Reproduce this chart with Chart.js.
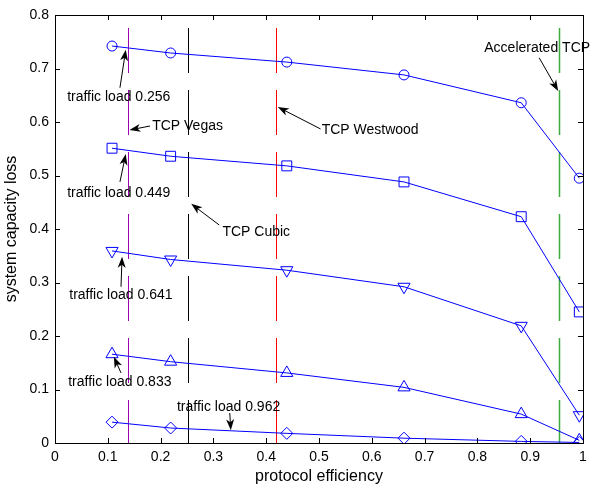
<!DOCTYPE html>
<html>
<head>
<meta charset="utf-8">
<script src="https://cdn.jsdelivr.net/npm/chart.js@4.4.1/dist/chart.umd.min.js"></script>
<style>
html,body{margin:0;padding:0;background:#fff;}
#wrap{width:591px;height:485px;}
</style>
</head>
<body>
<div id="wrap"><canvas id="lossChart" width="591" height="485"></canvas></div>
<script>
// protocol efficiency (x) shared by all curves
const efficiency = [0.108, 0.219, 0.439, 0.661, 0.883, 0.993];
const trafficLoads = ['0.256', '0.449', '0.641', '0.833', '0.962'];
const loss256 = [0.742, 0.729, 0.712, 0.688, 0.636, 0.495];
const loss449 = [0.551, 0.536, 0.518, 0.488, 0.423, 0.245];
const loss641 = [0.359, 0.343, 0.323, 0.292, 0.219, 0.052];
const loss833 = [0.166, 0.152, 0.131, 0.104, 0.054, 0.005];
const loss962 = [0.039, 0.028, 0.018, 0.009, 0.003, 0.001];

// vertical marker lines
const protocolNames = ['TCP Vegas', 'TCP Cubic', 'TCP Westwood', 'Accelerated TCP'];
const protocolEff = [0.1385, 0.252, 0.419, 0.955];
const protocolColors = ['#a000b4', '#000000', '#ff0000', '#3faa3f'];
const lineTop = 0.776;

const BLUE = '#0000ff';
const FONT = "'Liberation Sans', Arial, Helvetica, sans-serif";

const markers = [
  {style: 'circle', r: 5, rot: 0},
  {style: 'rect', r: 7, rot: 0},
  {style: 'triangle', r: 7, rot: 180},
  {style: 'triangle', r: 7, rot: 0},
  {style: 'rectRot', r: 6, rot: 0}
];
const series = [loss256, loss449, loss641, loss833, loss962];

// annotation text + arrows, in data coords (text left/middle, arrow tail -> tip)
const notes = [
  {text: 'traffic load ' + trafficLoads[0], tx: 0.023, ty: 0.647, from: [0.123, 0.664], to: [0.134, 0.735]},
  {text: protocolNames[0], tx: 0.184, ty: 0.5925, from: [0.180, 0.5925], to: [0.141, 0.585]},
  {text: protocolNames[2], tx: 0.505, ty: 0.585, from: [0.503, 0.587], to: [0.422, 0.628]},
  {text: protocolNames[3], tx: 0.813, ty: 0.738, from: [0.917, 0.720], to: [0.953, 0.658]},
  {text: 'traffic load ' + trafficLoads[1], tx: 0.023, ty: 0.467, from: [0.123, 0.488], to: [0.134, 0.540]},
  {text: protocolNames[1], tx: 0.317, ty: 0.394, from: [0.311, 0.4075], to: [0.258, 0.447]},
  {text: 'traffic load ' + trafficLoads[2], tx: 0.027, ty: 0.277, from: [0.125, 0.292], to: [0.127, 0.348]},
  {text: 'traffic load ' + trafficLoads[3], tx: 0.025, ty: 0.114, from: [0.125, 0.131], to: [0.1115, 0.161]},
  {text: 'traffic load ' + trafficLoads[4], tx: 0.231, ty: 0.067, from: [0.331, 0.056], to: [0.333, 0.024]}
];

const datasets = series.map((s, i) => ({
  label: 'traffic load ' + trafficLoads[i],
  data: efficiency.map((e, j) => ({x: e, y: s[j]})),
  showLine: true, borderColor: BLUE, borderWidth: 1,
  pointStyle: markers[i].style, pointRadius: markers[i].r, pointRotation: markers[i].rot,
  pointBorderColor: BLUE, pointBackgroundColor: 'rgba(0,0,0,0)', pointBorderWidth: 1
}));

function arrow(ctx, x0, y0, x1, y1) {
  const ang = Math.atan2(y1 - y0, x1 - x0);
  const L = 11, W = 4;
  ctx.beginPath();
  ctx.moveTo(x0, y0);
  ctx.lineTo(x1 - Math.cos(ang) * 6, y1 - Math.sin(ang) * 6);
  ctx.stroke();
  const bx = x1 - Math.cos(ang) * L, by = y1 - Math.sin(ang) * L;
  const nx = -Math.sin(ang), ny = Math.cos(ang);
  ctx.beginPath();
  ctx.moveTo(x1, y1);
  ctx.lineTo(bx + nx * W, by + ny * W);
  ctx.lineTo(x1 - Math.cos(ang) * 8, y1 - Math.sin(ang) * 8);
  ctx.lineTo(bx - nx * W, by - ny * W);
  ctx.closePath();
  ctx.fill();
}

const frame = {
  id: 'frame',
  beforeDatasetsDraw(chart) {
    const {ctx, scales: {x, y}} = chart;
    ctx.save();
    ctx.lineWidth = 1;
    ctx.setLineDash([45, 17]);
    protocolEff.forEach((p, i) => {
      const px = Math.round(x.getPixelForValue(p)) + 0.5;
      ctx.strokeStyle = protocolColors[i];
      ctx.lineWidth = i === 3 ? 1.5 : 1;
      ctx.beginPath();
      ctx.moveTo(px, Math.round(y.getPixelForValue(lineTop)));
      ctx.lineTo(px, y.getPixelForValue(0));
      ctx.stroke();
    });
    ctx.restore();
  },
  afterDraw(chart) {
    const {ctx, chartArea: a, scales: {x, y}} = chart;
    ctx.save();
    ctx.strokeStyle = '#000';
    ctx.lineWidth = 1;
    ctx.strokeRect(a.left + 0.5, a.top + 0.5, a.right - a.left, a.bottom - a.top);
    ctx.beginPath();
    x.ticks.forEach(t => {
      const px = Math.round(x.getPixelForValue(t.value)) + 0.5;
      ctx.moveTo(px, a.bottom); ctx.lineTo(px, a.bottom - 5);
      ctx.moveTo(px, a.top); ctx.lineTo(px, a.top + 5);
    });
    y.ticks.forEach(t => {
      const py = Math.round(y.getPixelForValue(t.value)) + 0.5;
      ctx.moveTo(a.left, py); ctx.lineTo(a.left + 5, py);
      ctx.moveTo(a.right, py); ctx.lineTo(a.right - 5, py);
    });
    ctx.stroke();

    ctx.fillStyle = '#000';
    ctx.font = '14px ' + FONT;
    ctx.textBaseline = 'middle';
    ctx.textAlign = 'left';
    notes.forEach(n => {
      ctx.fillText(n.text, x.getPixelForValue(n.tx), y.getPixelForValue(n.ty));
      arrow(ctx, x.getPixelForValue(n.from[0]), y.getPixelForValue(n.from[1]),
        x.getPixelForValue(n.to[0]), y.getPixelForValue(n.to[1]));
    });
    ctx.restore();
  }
};

const fmt = v => String(Number(v.toFixed(1)));

new Chart(document.getElementById('lossChart'), {
  type: 'scatter',
  data: {datasets},
  options: {
    responsive: false, animation: false,
    layout: {padding: {top: 15, right: 7, left: 0, bottom: 0}},
    plugins: {legend: {display: false}, tooltip: {enabled: false}},
    scales: {
      x: {
        type: 'linear', min: 0, max: 1,
        ticks: {stepSize: 0.1, color: '#000', font: {family: FONT, size: 14}, padding: 6, maxRotation: 0, callback: fmt},
        grid: {display: false, drawTicks: false}, border: {display: false},
        title: {display: true, text: 'protocol efficiency', color: '#000',
          font: {family: FONT, size: 16, lineHeight: 1}, padding: {top: 0, bottom: 0}},
        afterFit(s) { s.height = 42; s.paddingLeft = 0; s.paddingRight = 0; }
      },
      y: {
        type: 'linear', min: 0, max: 0.8,
        ticks: {stepSize: 0.1, color: '#000', font: {family: FONT, size: 14}, padding: 6, callback: fmt},
        grid: {display: false, drawTicks: false}, border: {display: false},
        title: {display: true, text: 'system capacity loss', color: '#000',
          font: {family: FONT, size: 16, lineHeight: 1}, padding: {top: 4, bottom: 0}},
        afterFit(s) { s.width = 55; s.paddingTop = 0; s.paddingBottom = 0; }
      }
    }
  },
  plugins: [frame]
});
</script>
</body>
</html>
